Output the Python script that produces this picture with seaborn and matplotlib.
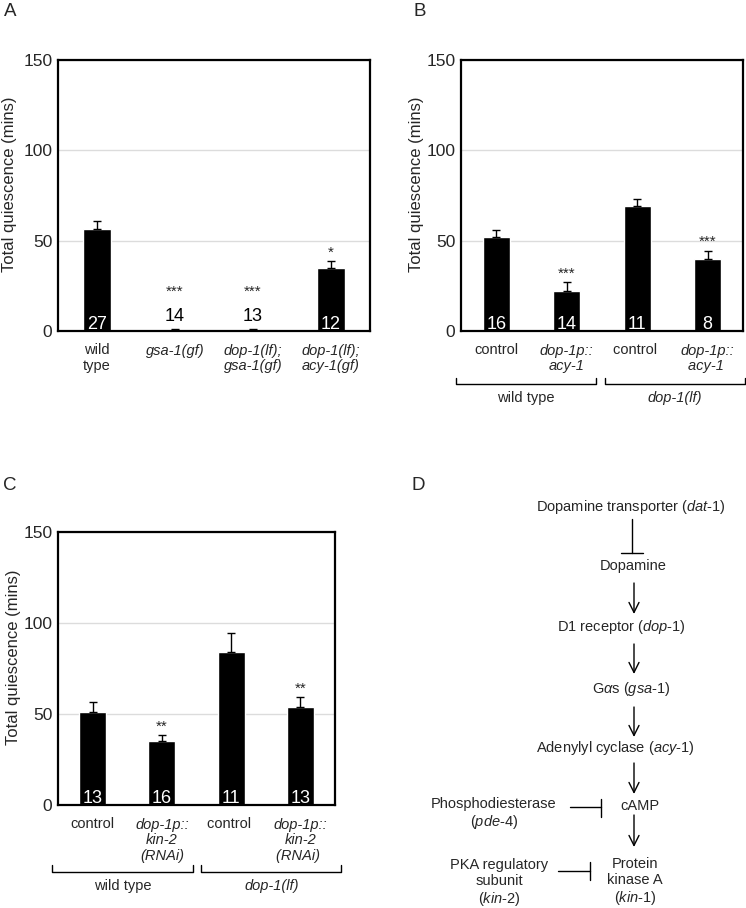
import numpy as np
import pandas as pd
import matplotlib
matplotlib.use("Agg")
import matplotlib.pyplot as plt
import seaborn as sns

# Panel A
a_labels = ["wild\ntype", "gsa-1(gf)", "dop-1(lf);\ngsa-1(gf)", "dop-1(lf);\nacy-1(gf)"]
a_italic = [False, True, True, True]
a_mean = [56.5, 0.5, 0.5, 35.0]
a_sem = [4.5, 0.4, 0.4, 3.8]
a_n = ["27", "14", "13", "12"]
a_stars = ["", "***", "***", "*"]

# Panel B
b_labels = ["control", "dop-1p::\nacy-1", "control ", "dop-1p::\nacy-1 "]
b_italic = [False, True, False, True]
b_mean = [52.0, 22.0, 69.0, 40.0]
b_sem = [3.7, 5.0, 4.2, 4.4]
b_n = ["16", "14", "11", "8"]
b_stars = ["", "***", "", "***"]

# Panel C
c_labels = ["control", "dop-1p::\nkin-2\n(RNAi)", "control ", "dop-1p::\nkin-2\n(RNAi) "]
c_italic = [False, True, False, True]
c_mean = [51.3, 35.2, 83.9, 54.0]
c_sem = [5.5, 3.3, 10.4, 5.3]
c_n = ["13", "16", "11", "13"]
c_stars = ["", "**", "", "**"]

groups = ["wild type", "dop-1(lf)"]

sns.set_theme(style="white")
plt.rcParams["font.family"] = ["Liberation Sans", "DejaVu Sans"]
plt.rcParams["mathtext.fontset"] = "custom"
plt.rcParams["mathtext.rm"] = "Liberation Sans"
plt.rcParams["mathtext.it"] = "Liberation Sans:italic"

fig = plt.figure(figsize=(7.46, 9.08), dpi=100)
W, H = 746, 908


def px_axes(left, top, right, bottom):
    return fig.add_axes([left / W, 1 - bottom / H, (right - left) / W, (bottom - top) / H])


def bar_panel(ax, labels, italic, mean, sem, n, stars, width):
    df = pd.DataFrame({"genotype": labels, "mean": mean})
    sns.barplot(data=df, x="genotype", y="mean", color="black", width=width,
                errorbar=None, ax=ax, saturation=1)
    x = np.arange(len(labels))
    ax.errorbar(x, mean, yerr=[np.zeros(len(sem)), sem], fmt="none",
                ecolor="black", elinewidth=1, capsize=3, capthick=1)
    for xi, m, s, nn, st in zip(x, mean, sem, n, stars):
        if m > 8:
            ax.text(xi, 1.2, nn, ha="center", va="baseline", color="white", fontsize=13)
        else:
            ax.text(xi, 5.5, nn, ha="center", va="baseline", color="black", fontsize=13)
        if st:
            base = m + s + 2.5 if m > 8 else 19.5
            ax.text(xi, base, st, ha="center", va="baseline", fontsize=11)
    ax.set_ylim(0, 150)
    ax.set_xlim(-0.5, len(labels) - 0.5)
    ax.set_yticks([0, 50, 100, 150])
    ax.yaxis.grid(True, color="#dcdcdc", linewidth=1)
    ax.set_axisbelow(True)
    ax.set_xlabel("")
    ax.set_ylabel("Total quiescence (mins)", fontsize=12)
    ax.yaxis.set_label_coords(-0.132, 0.54)
    ax.tick_params(axis="y", length=0, labelsize=12.5, pad=4)
    ax.tick_params(axis="x", length=0, labelsize=10.5, pad=9)
    for lab, it in zip(ax.get_xticklabels(), italic):
        lab.set_fontstyle("italic" if it else "normal")
        lab.set_linespacing(1.15)
    for sp in ax.spines.values():
        sp.set_visible(True)
        sp.set_color("black")
        sp.set_linewidth(1.6)


def brackets(ax, spans, y_line, y_end, y_text):
    tr = ax.get_xaxis_transform()
    for (x0, x1), g in zip(spans, groups):
        ax.plot([x0, x0, x1, x1], [y_end, y_line, y_line, y_end], color="black",
                lw=1, transform=tr, clip_on=False)
        ax.text((x0 + x1) / 2, y_text, g, transform=tr, ha="center", va="center",
                fontsize=10.5, fontstyle="italic" if g != "wild type" else "normal")


axA = px_axes(58, 60, 370, 331)
bar_panel(axA, a_labels, a_italic, a_mean, a_sem, a_n, a_stars, 0.36)

axB = px_axes(461, 60, 743, 331)
bar_panel(axB, b_labels, b_italic, b_mean, b_sem, b_n, b_stars, 0.38)
brackets(axB, [(-0.57, 1.41), (1.54, 3.53)], (331 - 384) / 271, (331 - 378) / 271, (331 - 398) / 271)

axC = px_axes(58, 532, 335, 805)
bar_panel(axC, c_labels, c_italic, c_mean, c_sem, c_n, c_stars, 0.39)
brackets(axC, [(-0.59, 1.45), (1.57, 3.59)], (805 - 872) / 273, (805 - 865) / 273, (805 - 886) / 273)

# panel letters
for lab, (px, py) in zip("ABCD", [(10, 11), (420, 11), (10, 485), (418, 485)]):
    fig.text(px / W, 1 - py / H, lab, fontsize=13.5, ha="center", va="center")

# Panel D: pathway diagram in figure pixel coordinates
axD = fig.add_axes([0, 0, 1, 1])
axD.set_xlim(0, W)
axD.set_ylim(H, 0)
axD.axis("off")
axD.patch.set_alpha(0)

fs = 10.5
kw = dict(ha="center", va="center", fontsize=fs, linespacing=1.15)
axD.text(631, 507, "Dopamine transporter ($\\it{dat}$-$\\it{1}$)", **kw)
axD.text(633, 566, "Dopamine", **kw)
axD.text(621, 627, "D1 receptor ($\\it{dop}$-$\\it{1}$)", **kw)
axD.text(631, 689, "G$\\alpha$s ($\\it{gsa}$-$\\it{1}$)", **kw)
axD.text(615, 748, "Adenylyl cyclase ($\\it{acy}$-$\\it{1}$)", **kw)
axD.text(640, 806, "cAMP", **kw)
axD.text(635, 882, "Protein\nkinase A\n($\\it{kin}$-$\\it{1}$)", **kw)
axD.text(494, 814, "Phosphodiesterase\n($\\it{pde}$-$\\it{4}$)", **kw)
axD.text(499, 883, "PKA regulatory\nsubunit\n($\\it{kin}$-$\\it{2}$)", **kw)

# inhibition from transporter
axD.plot([632, 632], [519, 553], color="black", lw=1)
axD.plot([621, 643], [553, 553], color="black", lw=1)
# activating arrows
for y0, y1 in [(583, 614), (644, 674), (707, 737), (763, 794), (815, 847)]:
    axD.annotate("", xy=(634, y1), xytext=(634, y0),
                 arrowprops=dict(arrowstyle="->", color="black", lw=1, mutation_scale=18,
                                 shrinkA=0, shrinkB=0))
# inhibitions from the side
axD.plot([570, 601], [807, 807], color="black", lw=1)
axD.plot([601, 601], [799, 817], color="black", lw=1)
axD.plot([558, 590], [871, 871], color="black", lw=1)
axD.plot([590, 590], [862, 880], color="black", lw=1)

fig.savefig("out.png", dpi=100, facecolor="white")
